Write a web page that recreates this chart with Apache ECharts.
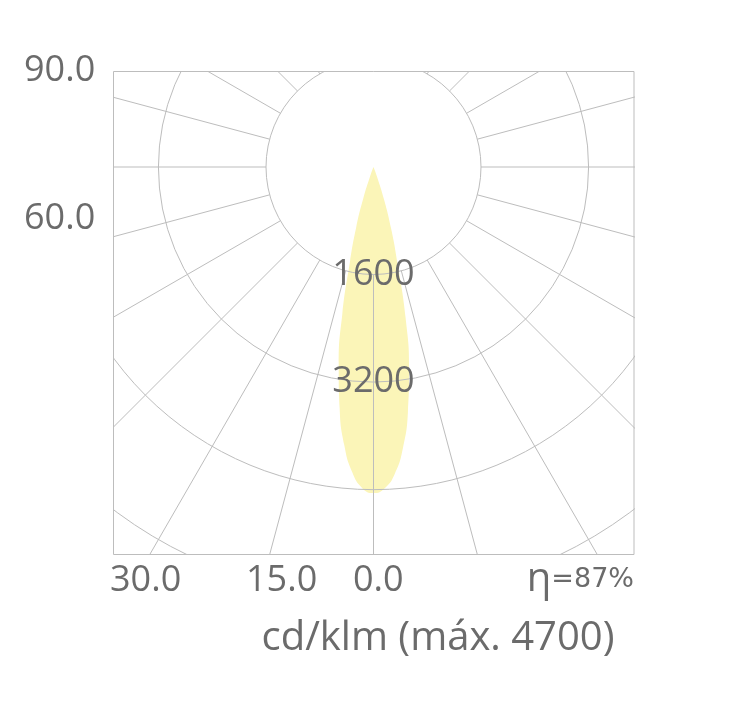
<!DOCTYPE html>
<html>
<head>
<meta charset="utf-8">
<title>cd/klm</title>
<script src="https://cdn.jsdelivr.net/npm/echarts@6/dist/echarts.min.js"></script>
<style>
    html, body { margin: 0; padding: 0; background: #fff; }
    #chart { width: 748px; height: 719px; }
</style>
</head>
<body>
<div id="chart"></div>
<script>
    // 光强分布, 角度 0 = 正下方 (度), 338..358 即 -22..-2
    var beamAngles = [338, 340, 342, 344, 346, 348, 350, 352, 354, 356, 358, 0, 2, 4, 6, 8, 10, 12, 14, 16, 18, 20, 22];
    // cd/klm
    var beamValues = [0, 150, 500, 950, 1480, 2300, 3050, 3680, 4200, 4570, 4780, 4850, 4780, 4550, 4160, 3620, 2980, 2230, 1440, 930, 490, 140, 0];

    // 径向刻度
    var ringTicks = ['1600', '3200'];
    var angleLabels = ['90.0', '60.0', '30.0', '15.0', '0.0'];
    var unitLabel = 'cd/klm (máx. 4700)';
    var etaSymbol = 'η';
    var etaValue = '=87%';

    var textColor = '#6b6b6b';
    var gridColor = '#bdbdbd';
    var center = [373.5, 167];
    var fontFamily = '"Open Sans", "Noto Sans", sans-serif';

    var chart = echarts.init(document.getElementById('chart'));

    // 角度标签的位置
    var anglePos = [[24, 71], [24, 219], [110, 581], [246, 581], [353, 581]];

    var labelTexts = angleLabels.map(function (t, i) {
        return {
            type: 'text',
            z: 110,
            x: anglePos[i][0],
            y: anglePos[i][1],
            style: {
                text: t,
                fill: textColor,
                font: '36px ' + fontFamily,
                textAlign: 'left',
                textVerticalAlign: 'middle'
            }
        };
    });

    var option = {
        animation: false,
        backgroundColor: '#fff',
        polar: [
            { center: center, radius: [107.5, 484] },
            { center: center, radius: 484 }
        ],
        angleAxis: [
            {
                polarIndex: 0,
                type: 'value',
                min: 0,
                max: 360,
                interval: 15,
                startAngle: 90,
                z: 5,
                axisLine: { show: false },
                axisTick: { show: false },
                axisLabel: { show: false },
                splitLine: { show: true, lineStyle: { color: gridColor, width: 1 } }
            },
            {
                // 0 在正下方
                polarIndex: 1,
                type: 'value',
                min: 0,
                max: 360,
                startAngle: -90,
                axisLine: { show: false },
                axisTick: { show: false },
                axisLabel: { show: false },
                splitLine: { show: false }
            }
        ],
        radiusAxis: [
            {
                polarIndex: 0,
                type: 'value',
                min: 1600,
                max: 7200,
                interval: 1600,
                z: 5,
                axisLine: { show: false },
                axisTick: { show: false },
                axisLabel: { show: false },
                splitLine: { show: true, lineStyle: { color: gridColor, width: 1 } }
            },
            {
                polarIndex: 1,
                type: 'value',
                min: 0,
                max: 7200,
                interval: 1600,
                z: 20,
                axisLine: { show: false },
                axisTick: { show: false },
                splitLine: { show: false },
                axisLabel: {
                    show: true,
                    margin: 0,
                    align: 'center',
                    verticalAlign: 'middle',
                    color: textColor,
                    fontSize: 36,
                    fontFamily: fontFamily,
                    formatter: function (v) {
                        return ringTicks.indexOf(String(v)) >= 0 ? String(v) : '';
                    }
                }
            }
        ],
        series: [
            {
                type: 'line',
                coordinateSystem: 'polar',
                polarIndex: 1,
                smooth: true,
                showSymbol: false,
                z: 2,
                lineStyle: { width: 0 },
                areaStyle: { color: '#fbf5b8', opacity: 1 },
                data: beamAngles.map(function (a, i) {
                    return [beamValues[i], a];
                })
            }
        ],
        graphic: labelTexts.concat([
            // 框外遮罩
            { type: 'rect', z: 100, shape: { x: 0, y: 0, width: 748, height: 71 }, style: { fill: '#fff' } },
            { type: 'rect', z: 100, shape: { x: 0, y: 0, width: 113, height: 719 }, style: { fill: '#fff' } },
            { type: 'rect', z: 100, shape: { x: 635, y: 0, width: 113, height: 719 }, style: { fill: '#fff' } },
            { type: 'rect', z: 100, shape: { x: 0, y: 555, width: 748, height: 164 }, style: { fill: '#fff' } },
            {
                type: 'rect', z: 105,
                shape: { x: 113.5, y: 71.5, width: 520.5, height: 483 },
                style: { fill: 'none', stroke: gridColor, lineWidth: 1 }
            },
            {
                type: 'text', z: 110, x: 438, y: 639,
                style: {
                    text: unitLabel,
                    fill: textColor,
                    font: '40px ' + fontFamily,
                    textAlign: 'center',
                    textVerticalAlign: 'middle'
                }
            },
            {
                type: 'text', z: 110, x: 634, y: 580,
                style: {
                    text: '{a|' + etaSymbol + '}{b|' + etaValue + '}',
                    textAlign: 'right',
                    textVerticalAlign: 'middle',
                    rich: {
                        a: { fontSize: 40, fontFamily: fontFamily, fill: textColor, verticalAlign: 'middle' },
                        b: { fontSize: 27, fontFamily: '"DejaVu Sans", sans-serif', fill: textColor, verticalAlign: 'middle' }
                    }
                }
            }
        ])
    };

    chart.setOption(option);
</script>
</body>
</html>
